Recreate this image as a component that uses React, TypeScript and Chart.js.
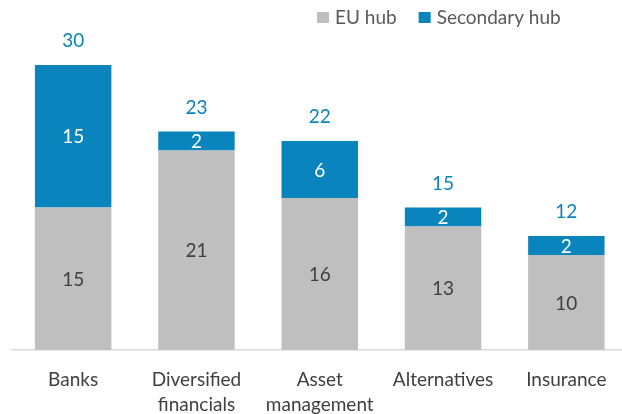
import React, { useEffect, useRef } from "react";
import { Chart, registerables } from "chart.js";

Chart.register(...registerables);

const categories: (string | string[])[] = [
  "Banks",
  ["Diversified", "financials"],
  ["Asset", "management"],
  "Alternatives",
  "Insurance",
];
const euHub = [15, 21, 16, 13, 10];
const secondaryHub = [15, 2, 6, 2, 2];
const totals = [30, 23, 22, 15, 12];

const GREY = "#BFBFBF";
const BLUE = "#0A84BC";
const FONT = "Lato, 'Open Sans', sans-serif";

const labelsPlugin = {
  id: "valueLabels",
  afterDatasetsDraw(chart: any) {
    const ctx = chart.ctx;
    ctx.save();
    ctx.textAlign = "center";
    ctx.textBaseline = "middle";
    ctx.font = `19px ${FONT}`;
    chart.data.datasets.forEach((ds: any, di: number) => {
      const meta = chart.getDatasetMeta(di);
      meta.data.forEach((el: any, i: number) => {
        const mid = (el.y + el.base) / 2;
        ctx.fillStyle = di === 0 ? "#404040" : "#FFFFFF";
        ctx.fillText(String(ds.data[i]), el.x, mid + 1);
      });
    });
    const top = chart.getDatasetMeta(chart.data.datasets.length - 1);
    ctx.fillStyle = BLUE;
    top.data.forEach((el: any, i: number) => {
      ctx.fillText(String(totals[i]), el.x, el.y - 24);
    });
    // legend
    const items = [
      { label: "EU hub", color: GREY },
      { label: "Secondary hub", color: BLUE },
    ];
    ctx.font = `19px ${FONT}`;
    ctx.textAlign = "left";
    let x = 317;
    items.forEach((it) => {
      ctx.fillStyle = it.color;
      ctx.fillRect(x, 12, 12, 11);
      ctx.fillStyle = "#595959";
      ctx.fillText(it.label, x + 18, 18);
      x += 18 + ctx.measureText(it.label).width + 22;
    });
    ctx.restore();
  },
};

export default function App() {
  const ref = useRef<HTMLCanvasElement | null>(null);
  useEffect(() => {
    document.body.style.margin = "0";
    const chart = new Chart(ref.current as HTMLCanvasElement, {
      type: "bar",
      data: {
        labels: categories,
        datasets: [
          { label: "EU hub", data: euHub, backgroundColor: GREY, barPercentage: 0.62, categoryPercentage: 1 },
          { label: "Secondary hub", data: secondaryHub, backgroundColor: BLUE, barPercentage: 0.62, categoryPercentage: 1 },
        ],
      },
      options: {
        animation: false,
        responsive: false,
        maintainAspectRatio: false,
        layout: { padding: { left: 11.5, right: 0, top: 0, bottom: 0 } },
        plugins: { legend: { display: false }, tooltip: { enabled: false } },
        scales: {
          x: {
            stacked: true,
            grid: { display: false },
            border: { display: true, color: "#D9D9D9", width: 1.5 },
            ticks: { color: "#404040", font: { family: FONT, size: 19, lineHeight: 1.3 }, padding: 10, maxRotation: 0 },
            afterFit: (s: any) => { s.height = 64; },
          },
          y: {
            stacked: true,
            display: false,
            min: 0,
            max: 350 / 9.5,
          },
        },
      },
      plugins: [labelsPlugin],
    });
    return () => chart.destroy();
  }, []);
  return (
    <div style={{ width: 622, height: 414, overflow: "hidden", position: "relative" }}>
      <canvas ref={ref} width={628} height={414} style={{ display: "block" }} />
    </div>
  );
}
